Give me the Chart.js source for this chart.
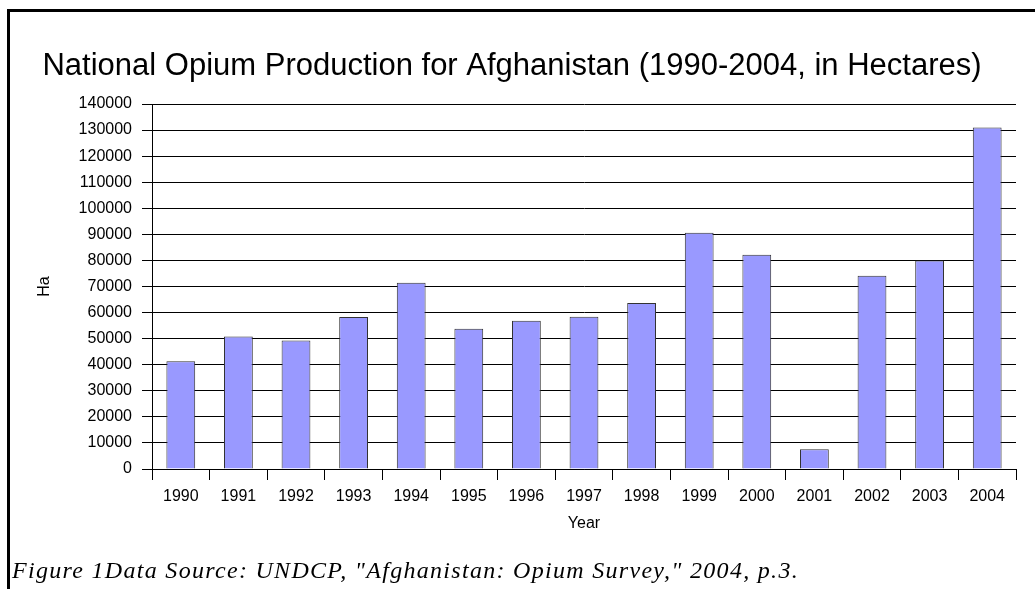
<!DOCTYPE html>
<html>
<head>
<meta charset="utf-8">
<script src="https://cdn.jsdelivr.net/npm/chart.js@4.4.0/dist/chart.umd.min.js"></script>
<style>
  body { margin: 0; background: #fff; }
  #wrap { position: relative; width: 1035px; height: 589px; overflow: hidden; }
  #frame { position: absolute; left: 7px; top: 9px; width: 1100px; height: 700px;
           border-left: 3px solid #000; border-top: 3px solid #000; pointer-events: none; }
  #caption { position: absolute; left: 12px; top: 557px; font: italic 24px "Liberation Serif", "Times New Roman", serif;
             line-height: 26px; letter-spacing: 1.3px; white-space: nowrap; color: #000; }
</style>
</head>
<body>
<div id="wrap">
  <canvas id="grafico" width="1035" height="589"></canvas>
  <div id="frame"></div>
  <div id="caption">Figure 1Data Source: UNDCP, "Afghanistan: Opium Survey," 2004, p.3.</div>
</div>
<script>
// datos
const anios = ['1990', '1991', '1992', '1993', '1994', '1995', '1996', '1997',
               '1998', '1999', '2000', '2001', '2002', '2003', '2004']
const hectareas = [41300, 50800, 49300, 58300, 71470, 53759, 56824, 58416,
                   63674, 90583, 82171, 7606, 74100, 80000, 131000]
const ejeY = { min: 0, max: 140000, paso: 10000 }

const fuente = 'Arial, "Liberation Sans", sans-serif'

function grafico_barras() {
    const ctx = document.getElementById('grafico')

    new Chart(ctx, {
        type: 'bar',
        data: {
            labels: anios,
            datasets: [{
                label: 'Ha',
                data: hectareas,
                backgroundColor: '#9999ff',
                borderColor: '#333333',
                borderWidth: 1,
                barPercentage: 0.5,
                categoryPercentage: 1
            }]
        },
        options: {
            responsive: false,
            animation: false,
            layout: { padding: { left: 8, right: 19, top: 0, bottom: 55 } },
            plugins: {
                legend: { display: false },
                tooltip: { enabled: false },
                title: {
                    display: true,
                    text: 'National Opium Production for Afghanistan (1990-2004, in Hectares)',
                    color: '#000',
                    font: { family: fuente, size: 31, weight: 'normal', lineHeight: 1.2 },
                    padding: { top: 48, bottom: 18.8 }
                }
            },
            scales: {
                x: {
                    grid: { offset: true, drawOnChartArea: false, drawTicks: true, tickLength: 11, color: '#000' },
                    border: { color: '#000', width: 1 },
                    ticks: { color: '#000', font: { family: fuente, size: 16 }, padding: 7, maxRotation: 0 },
                    title: { display: true, text: 'Year', color: '#000',
                             font: { family: fuente, size: 16 }, padding: { top: 0.5, bottom: 0.5 } },
                    afterFit: (escala) => { escala.height = 65 }
                },
                y: {
                    min: ejeY.min,
                    max: ejeY.max,
                    grid: { color: '#000', tickLength: 10 },
                    border: { color: '#000', width: 1 },
                    ticks: { stepSize: ejeY.paso, color: '#000', font: { family: fuente, size: 16 }, padding: 10,
                             callback: (valor) => String(valor) },
                    title: { display: true, text: 'Ha', color: '#000',
                             font: { family: fuente, size: 16 }, padding: { top: 27, bottom: 27 } },
                    afterFit: (escala) => { escala.width = 144 }
                }
            }
        }
    })
}

grafico_barras()
</script>
</body>
</html>
